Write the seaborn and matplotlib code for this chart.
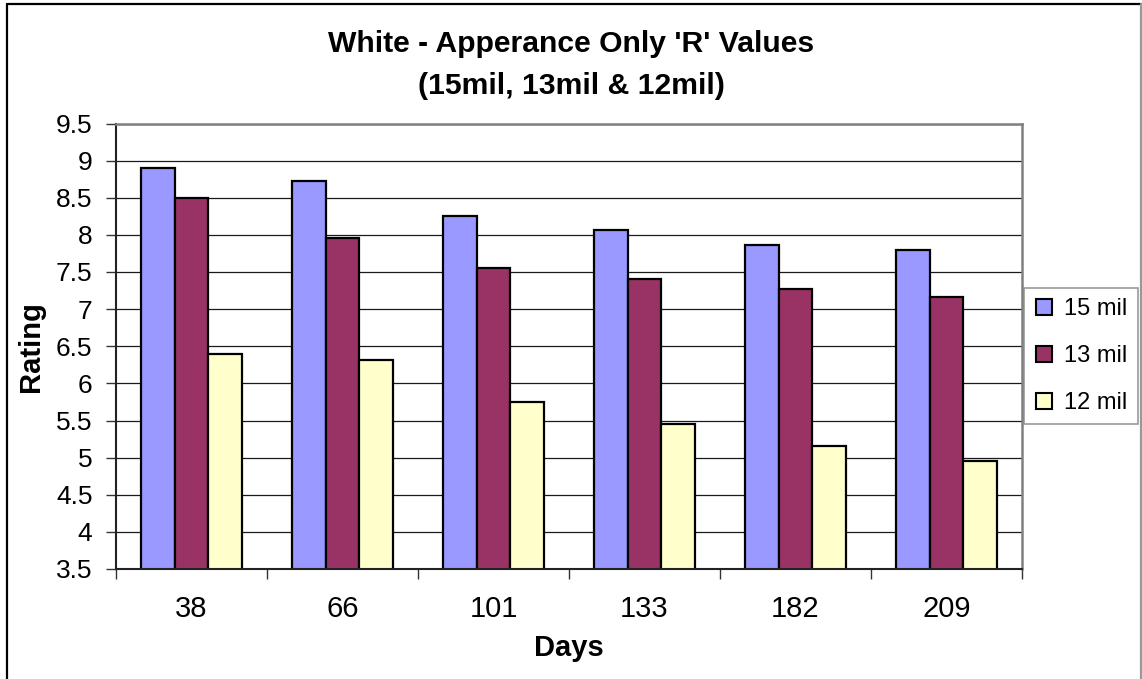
import matplotlib
matplotlib.use("Agg")
import matplotlib.pyplot as plt
from matplotlib.lines import Line2D
import numpy as np
import pandas as pd
import seaborn as sns

# Data
days = ["38", "66", "101", "133", "182", "209"]
series_names = ["15 mil", "13 mil", "12 mil"]
mil15 = [8.90, 8.73, 8.26, 8.07, 7.86, 7.80]
mil13 = [8.50, 7.96, 7.56, 7.40, 7.27, 7.17]
mil12 = [6.39, 6.32, 5.75, 5.45, 5.15, 4.95]
colors = ["#9999FF", "#993366", "#FFFFCC"]

df = pd.DataFrame({
    "Days": days * 3,
    "Rating": mil15 + mil13 + mil12,
    "Series": [s for s in series_names for _ in days],
})

sns.set_theme(style="white")
plt.rcParams["font.family"] = ["Liberation Sans", "DejaVu Sans"]
plt.rcParams["text.color"] = "black"
plt.rcParams["axes.labelcolor"] = "black"
plt.rcParams["xtick.color"] = "black"
plt.rcParams["ytick.color"] = "black"

W, H = 1142, 679
fig = plt.figure(figsize=(W / 100, H / 100), dpi=100)
ax = fig.add_axes([116 / W, 1 - 569 / H, (1022 - 116) / W, (569 - 123.5) / H])

sns.barplot(
    data=df, x="Days", y="Rating", hue="Series", order=days,
    hue_order=series_names, palette=colors, width=0.675,
    edgecolor="black", linewidth=1.6, ax=ax, legend=False, saturation=1,
)

ax.set_ylim(3.5, 9.5)
ax.set_xlim(-0.5, len(days) - 0.5)
yticks = np.arange(3.5, 9.51, 0.5)
ax.set_yticks(yticks)
ax.set_yticklabels([f"{v:g}" for v in yticks])
ax.set_axisbelow(True)
ax.yaxis.grid(True, color="#1a1a1a", linewidth=0.9)
ax.xaxis.grid(False)

# Category boundary tick marks on the x axis
ax.set_xticks(np.arange(-0.5, len(days), 1.0), minor=True)
ax.tick_params(axis="x", which="major", length=0, pad=19, labelsize=21, labelcolor="black")
ax.tick_params(axis="x", which="minor", length=7, width=1, color="#333333", direction="out", bottom=True)
ax.tick_params(axis="y", which="major", length=7, width=1, color="#333333", direction="out",
               left=True, pad=10, labelsize=19, labelcolor="black")

for side in ["top", "right"]:
    ax.spines[side].set_visible(True)
    ax.spines[side].set_color("#808080")
    ax.spines[side].set_linewidth(1.8)
ax.spines["left"].set_color("#222222")
ax.spines["left"].set_linewidth(1.5)
ax.spines["bottom"].set_color("#222222")
ax.spines["bottom"].set_linewidth(1.5)

ax.set_xlabel("Days", fontsize=21, fontweight="bold", labelpad=8, color="black")
ax.set_ylabel("Rating", fontsize=21, fontweight="bold", labelpad=8, color="black")

fig.text(571 / W, 1 - 65 / H, "White - Apperance Only 'R' Values\n(15mil, 13mil & 12mil)",
         ha="center", va="center", fontsize=21.7, fontweight="bold", linespacing=1.6,
         color="black")

handles = [Line2D([0], [0], marker="s", linestyle="none", markersize=11,
                  markerfacecolor=c, markeredgecolor="black", markeredgewidth=1.5)
           for c in colors]
leg = fig.legend(handles, series_names, loc="center",
                 bbox_to_anchor=(1081 / W, 1 - 356 / H), fontsize=17,
                 frameon=True, fancybox=False, edgecolor="#808080",
                 handlelength=0.8, handletextpad=0.45, labelspacing=1.05,
                 borderpad=0.45, borderaxespad=0)
leg.get_frame().set_linewidth(1.2)
for t in leg.get_texts():
    t.set_color("black")

# Outer chart border
fig.add_artist(Line2D([7 / W, 7 / W], [0, 1 - 4 / H], transform=fig.transFigure, color="black", linewidth=1.6))
fig.add_artist(Line2D([7 / W, 1141 / W], [1 - 4 / H, 1 - 4 / H], transform=fig.transFigure, color="black", linewidth=1.6))
fig.add_artist(Line2D([1141 / W, 1141 / W], [0, 1 - 4 / H], transform=fig.transFigure, color="#999999", linewidth=1.6))

fig.savefig("out.png", dpi=100, facecolor="white")
